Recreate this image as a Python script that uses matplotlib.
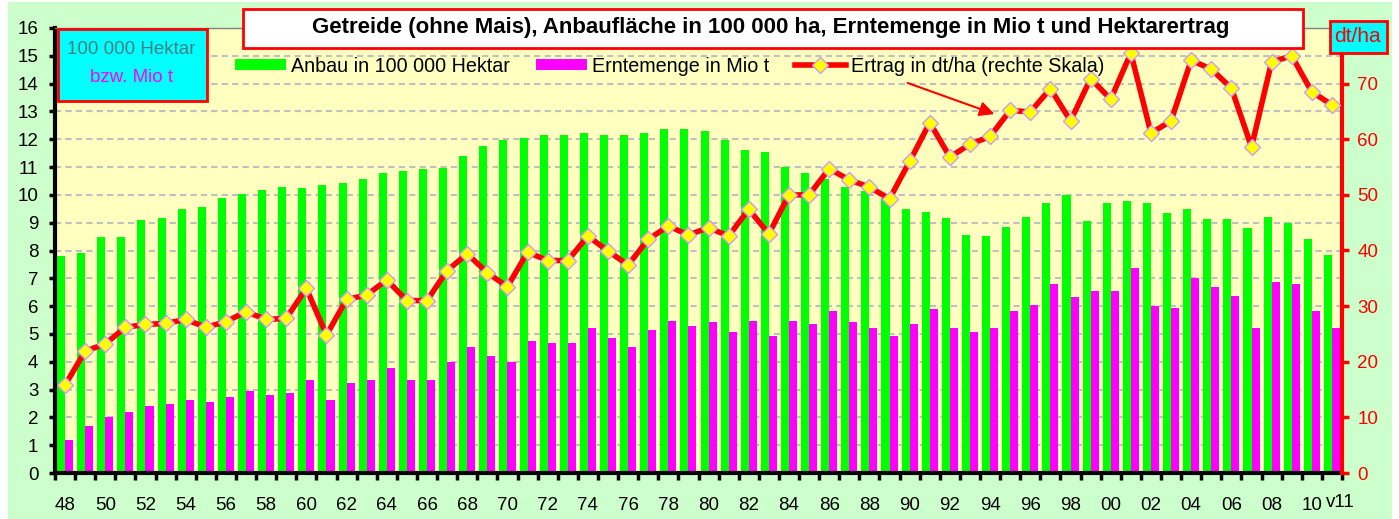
import numpy as np
import matplotlib
matplotlib.use('Agg')
import matplotlib.pyplot as plt
from matplotlib.patches import Rectangle
from matplotlib.lines import Line2D
from matplotlib.patches import Patch

plt.rcParams['font.family'] = ['Liberation Sans', 'DejaVu Sans']

years = list(range(1948, 2012))

# Anbau in 100 000 ha
area = [7.8, 7.9, 8.5, 8.5, 9.1, 9.17, 9.5, 9.58, 9.89, 10.02,
        10.17, 10.3, 10.23, 10.37, 10.44, 10.58, 10.79, 10.86, 10.92, 10.96,
        11.39, 11.75, 11.97, 12.03, 12.17, 12.17, 12.24, 12.17, 12.17, 12.24,
        12.37, 12.37, 12.3, 11.97, 11.6, 11.54, 11.0, 10.79, 10.57, 10.29,
        10.15, 9.88, 9.5, 9.37, 9.18, 8.55, 8.53, 8.86, 9.22, 9.72,
        10.0, 9.07, 9.72, 9.78, 9.72, 9.36, 9.49, 9.15, 9.15, 8.8,
        9.22, 9.0, 8.4, 7.85]

# Erntemenge in Mio t
harvest = [1.2, 1.7, 2.0, 2.2, 2.42, 2.48, 2.62, 2.56, 2.75, 2.95,
           2.81, 2.88, 3.36, 2.62, 3.22, 3.36, 3.78, 3.36, 3.36, 4.0,
           4.53, 4.2, 4.0, 4.74, 4.67, 4.67, 5.2, 4.87, 4.53, 5.14,
           5.48, 5.28, 5.42, 5.08, 5.48, 4.94, 5.48, 5.35, 5.83, 5.42,
           5.2, 4.94, 5.35, 5.9, 5.2, 5.08, 5.2, 5.83, 6.05, 6.8,
           6.33, 6.53, 6.53, 7.37, 6.0, 5.92, 7.02, 6.7, 6.36, 5.2,
           6.87, 6.8, 5.83, 5.2]

# Ertrag in dt/ha
yields = [15.8, 21.9, 23.2, 26.2, 26.7, 26.9, 27.6, 26.2, 27.2, 29.0,
          27.6, 27.8, 33.2, 24.8, 31.2, 32.0, 34.7, 31.0, 31.0, 36.4,
          39.4, 36.0, 33.5, 39.7, 38.2, 38.2, 42.6, 39.9, 37.4, 42.0,
          44.4, 42.8, 44.1, 42.6, 47.4, 43.0, 50.0, 50.0, 54.7, 52.7,
          51.4, 49.3, 56.0, 63.0, 56.8, 59.1, 60.5, 65.2, 64.9, 69.1,
          63.3, 70.9, 67.2, 75.5, 61.1, 63.3, 74.2, 72.6, 69.2, 58.6,
          73.9, 75.0, 68.5, 66.2]

year_labels = ['%02d' % (y % 100) for y in years[:-1:2]]

W, H = 1399, 519
def fx(x): return x / W
def fy(y): return 1 - y / H

fig = plt.figure(figsize=(W / 100, H / 100), dpi=100)
fig.patch.set_facecolor('white')
fig.patches.append(Rectangle((fx(8), 0), fx(1392 - 8), fy(2), transform=fig.transFigure,
                             facecolor='#CCFFCC', edgecolor='none', zorder=-10))

ax = fig.add_axes([fx(55), fy(473), fx(1342 - 55), fy(28) - fy(473)])
ax.set_facecolor('#FFFFC0')
x = np.array(years)
bw = 0.4
ax.bar(x - bw / 2, area, width=bw, color='#00FF00', zorder=2)
ax.bar(x + bw / 2, harvest, width=bw, color='#FF00FF', zorder=2)
ax.set_xlim(years[0] - 0.5, years[-1] + 0.5)
ax.set_ylim(0, 16)
ax.set_yticks(range(0, 17))
for v in range(1, 17):
    ax.axhline(v, color='#C0C0C0', lw=1.5, ls=(0, (3, 2)), zorder=1)

ax.set_xticks(years[:-1:2])
ax.set_xticklabels(year_labels)
ax.set_xticks(np.arange(years[0] - 0.5, years[-1] + 1), minor=True)
ax.tick_params(axis='x', which='major', length=0, pad=17, labelsize=13.5)
ax.tick_params(axis='x', which='minor', length=5, width=2.5, color='black', direction='out')
ax.tick_params(axis='y', length=4, width=2.5, color='black', pad=8, labelsize=13.5)
ax.text(years[-1] + 0.4, -0.75, 'v11', ha='center', va='top', fontsize=13.5)

ax.spines['left'].set_linewidth(3)
ax.spines['bottom'].set_linewidth(3)
ax.spines['top'].set_color('#808080')
ax.spines['top'].set_linewidth(1)
ax.spines['right'].set_visible(False)

ax2 = ax.twinx()
ax2.plot(x, yields, color='#FF0000', lw=4, marker='D', ms=8,
         mfc='#FFFF00', mec='#CC99FF', mew=1, zorder=5)
ax2.set_ylim(0, 80)
ax2.set_yticks(range(0, 80, 10))
ax2.tick_params(axis='y', length=5, width=2.5, color='#FF0000', labelcolor='#FF0000',
                pad=6, labelsize=13.5)
ax2.spines['right'].set_color('#FF0000')
ax2.spines['right'].set_linewidth(3)
ax2.spines['left'].set_visible(False)
ax2.spines['top'].set_visible(False)
ax2.spines['bottom'].set_visible(False)

# title box
fig.patches.append(Rectangle((fx(243), fy(48)), fx(1303 - 243), fy(9) - fy(48),
                             transform=fig.transFigure, facecolor='white',
                             edgecolor='#FF0000', lw=2, zorder=10))
fig.text(fx(771), fy(28), 'Getreide (ohne Mais), Anbaufläche in 100 000 ha, Erntemenge in Mio t und Hektarertrag',
         ha='center', va='center', fontsize=16, fontweight='bold', zorder=11)

# left unit box
fig.patches.append(Rectangle((fx(58), fy(101)), fx(207 - 58), fy(29) - fy(101),
                             transform=fig.transFigure, facecolor='#00FFFF',
                             edgecolor='#FF0000', lw=2, zorder=10))
fig.text(fx(131), fy(49), '100 000 Hektar', ha='center', va='center', fontsize=13.5,
         color='#408080', zorder=11)
fig.text(fx(132), fy(77), 'bzw. Mio t', ha='center', va='center', fontsize=13.5,
         color='#FF00FF', zorder=11)

# right unit box
fig.patches.append(Rectangle((fx(1330), fy(53)), fx(1387 - 1330), fy(21) - fy(53),
                             transform=fig.transFigure, facecolor='#00FFFF',
                             edgecolor='#FF0000', lw=2, zorder=10))
fig.text(fx(1357), fy(37), 'dt/ha', ha='center', va='center', fontsize=15,
         color='#FF0000', zorder=11)

handles = [Patch(facecolor='#00FF00'), Patch(facecolor='#FF00FF'),
           Line2D([], [], color='#FF0000', lw=4, marker='D', ms=8,
                  mfc='#FFFF00', mec='#CC99FF', mew=1)]
labels = ['Anbau in 100 000 Hektar', 'Erntemenge in Mio t', 'Ertrag in dt/ha (rechte Skala)']
fig.legend(handles, labels, loc='center left', bbox_to_anchor=(fx(235), fy(66)), ncol=3,
           frameon=False, fontsize=14.2, handlelength=2.6, handleheight=0.55,
           handletextpad=0.25, columnspacing=1.3, numpoints=1,
           borderaxespad=0, borderpad=0)

ax2.annotate('', xy=(fx(997), fy(115)), xycoords='figure fraction',
             xytext=(fx(905), fy(82)), textcoords='figure fraction',
             arrowprops=dict(arrowstyle='-|>', color='#FF0000', lw=1.5, mutation_scale=22))

fig.savefig('out.png', dpi=100, facecolor=fig.get_facecolor())
